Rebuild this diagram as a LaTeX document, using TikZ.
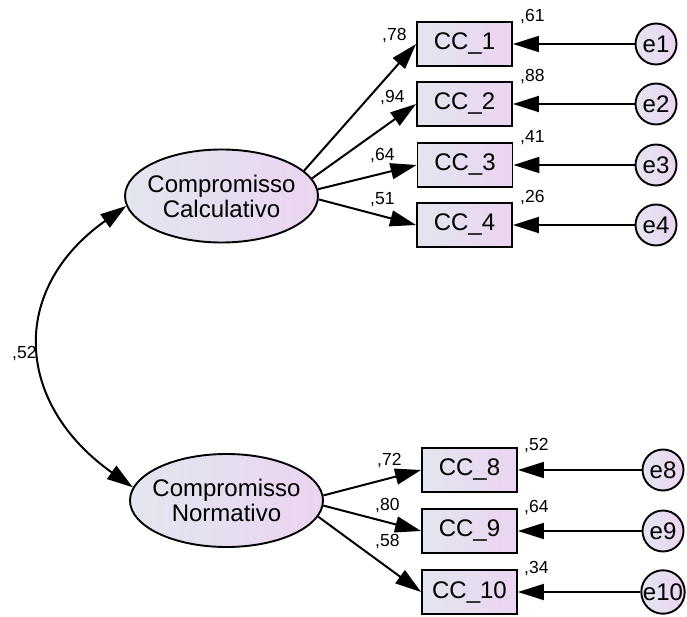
\documentclass[tikz,border=0pt]{standalone}
\usepackage{fontspec}
\setmainfont{Liberation Sans}
\usetikzlibrary{shapes.geometric,arrows.meta}
\definecolor{shadeL}{HTML}{E2E6EE}
\definecolor{shadeR}{HTML}{EBD4F1}
\tikzset{
  shaded/.style={left color=shadeL, right color=shadeR, draw=black, line width=1.9pt},
  latent/.style={shaded, ellipse, minimum width=193pt, minimum height=93pt, inner sep=-8pt,
    align=center, font=\fontsize{24}{25}\selectfont},
  item/.style={shaded, rectangle, minimum width=95pt, minimum height=44pt, inner sep=0pt,
    font=\fontsize{24}{25}\selectfont},
  err/.style={shaded, circle, minimum size=41pt, inner sep=0pt, font=\fontsize{24}{25}\selectfont},
  coef/.style={anchor=base west, inner sep=0pt, font=\fontsize{17.5}{18}\selectfont},
  path/.style={line width=2pt, -{Triangle[length=26pt, width=16pt]}},
  covpath/.style={line width=2pt, {Triangle[length=26pt, width=16pt]}-{Triangle[length=26pt, width=16pt]}}
}
\begin{document}
\begin{tikzpicture}[x=1pt, y=-1pt]
\useasboundingbox (0,0) rectangle (687,617);

% latent factors
\node[latent] (calc) at (221.5,196) {Compromisso\\Calculativo};
\node[latent] (norm) at (226.5,500.5) {Compromisso\\Normativo};

% observed items
\node[item] (cc1) at (464.5,44) {CC\_1};
\node[item] (cc2) at (464.5,104) {CC\_2};
\node[item] (cc3) at (465,165) {CC\_3};
\node[item] (cc4) at (464.5,225) {CC\_4};
\node[item] (cc8) at (469.5,470) {CC\_8};
\node[item] (cc9) at (469.5,531) {CC\_9};
\node[item] (cc10) at (469.5,592) {CC\_10};

% error terms
\node[err] (e1) at (656,44) {e1};
\node[err] (e2) at (656,104) {e2};
\node[err] (e3) at (656,165) {e3};
\node[err] (e4) at (656,225) {e4};
\node[err] (e8) at (663,470) {e8};
\node[err] (e9) at (663,531) {e9};
\node[err] (e10) at (663,592) {e10};

% loadings
\draw[path] (calc.17) -- (cc1.west);
\draw[path] (calc.11.7) -- (cc2.west);
\draw[path] (calc.4.6) -- (cc3.west);
\draw[path] (calc.-2.3) -- (cc4.west);
\draw[path] (norm.3.9) -- (cc8.west);
\draw[path] (norm.-3.9) -- (cc9.west);
\draw[path] (norm.-10.7) -- (cc10.west);

% error paths
\foreach \e/\c in {e1/cc1, e2/cc2, e3/cc3, e4/cc4, e8/cc8, e9/cc9, e10/cc10}
  \draw[path] (\e) -- (\c);

% factor covariance
\draw[covpath] (calc.186.7) .. controls +(-118,83.5) and +(-118,-83.5) .. (norm.172.4);

% standardized estimates
\node[coef] (l1) at (382,41) {,78};
\node[coef] (l2) at (380,103) {,94};
\node[coef] (l3) at (370,161) {,64};
\node[coef] (l4) at (370,205) {,51};
\node[coef] (r1) at (520,22) {,61};
\node[coef] (r2) at (520,82) {,88};
\node[coef] (r3) at (520,143) {,41};
\node[coef] (r4) at (520,203) {,26};
\node[coef] (l8) at (377,465) {,72};
\node[coef] (l9) at (375,510) {,80};
\node[coef] (l10) at (375,546) {,58};
\node[coef] (r8) at (524,450) {,52};
\node[coef] (r9) at (524,512) {,64};
\node[coef] (r10) at (524,573) {,34};
\node[coef] (cov) at (12,358) {,52};
\end{tikzpicture}
\end{document}
